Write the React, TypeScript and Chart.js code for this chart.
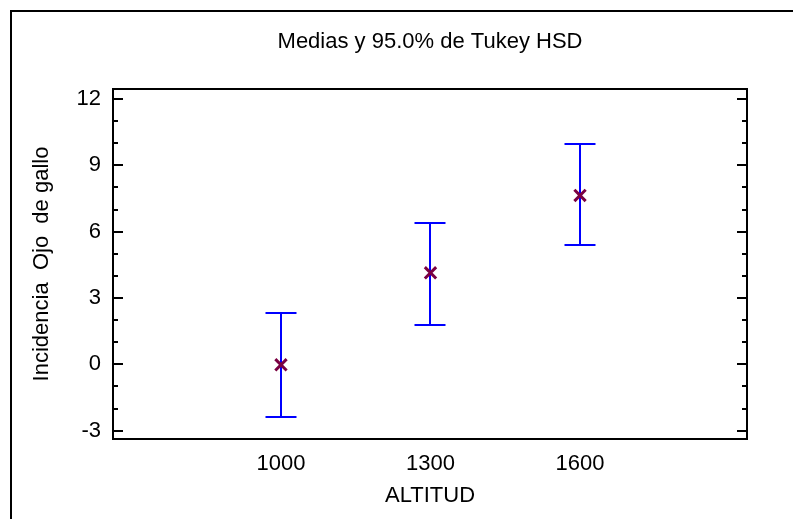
import React, { useEffect, useRef } from "react";
import { Chart, registerables } from "chart.js";

Chart.register(...registerables);

const categories = [1000, 1300, 1600];
const means = [-0.02, 4.14, 7.64];
const lowerLimits = [-2.36, 1.8, 5.38];
const upperLimits = [2.33, 6.38, 9.97];
const yTicks = [-3, 0, 3, 6, 9, 12];
const yMinorTicks = [-2, -1, 1, 2, 4, 5, 7, 8, 10, 11];
const titleText = "Medias y 95.0% de Tukey HSD";
const xTitle = "ALTITUD";
const yTitle = "Incidencia  Ojo  de gallo";

const FONT = "'Liberation Sans', Arial, sans-serif";
const FS = 22;

const framePlugin = {
  id: "framePlugin",
  beforeDatasetsDraw(chart: any) {
    const { ctx, scales } = chart;
    const y = scales.y;
    const x = scales.x;
    ctx.save();
    ctx.strokeStyle = "#0000ff";
    ctx.lineWidth = 2;
    const capHalf = 15.5;
    categories.forEach((c, i) => {
      const px = Math.round(x.getPixelForValue(c));
      const pLo = Math.round(y.getPixelForValue(lowerLimits[i]));
      const pHi = Math.round(y.getPixelForValue(upperLimits[i]));
      ctx.beginPath();
      ctx.moveTo(px, pLo);
      ctx.lineTo(px, pHi);
      ctx.moveTo(px - capHalf, pHi);
      ctx.lineTo(px + capHalf, pHi);
      ctx.moveTo(px - capHalf, pLo);
      ctx.lineTo(px + capHalf, pLo);
      ctx.stroke();
    });
    ctx.restore();
  },
  afterDraw(chart: any) {
    const { ctx, chartArea, scales } = chart;
    const y = scales.y;
    ctx.save();
    // title centred over the plot area
    ctx.fillStyle = "#000";
    ctx.font = `${FS}px ${FONT}`;
    ctx.textAlign = "center";
    ctx.textBaseline = "middle";
    ctx.fillText(titleText, (chartArea.left + chartArea.right) / 2, 42);

    ctx.strokeStyle = "#000";
    ctx.lineWidth = 2;
    ctx.strokeRect(11, 11, 820, 540);
    ctx.strokeRect(chartArea.left, chartArea.top, chartArea.right - chartArea.left, chartArea.bottom - chartArea.top);
    const drawTick = (v: number, len: number) => {
      const py = Math.round(y.getPixelForValue(v));
      ctx.beginPath();
      ctx.moveTo(chartArea.left, py);
      ctx.lineTo(chartArea.left + len, py);
      ctx.moveTo(chartArea.right, py);
      ctx.lineTo(chartArea.right - len, py);
      ctx.stroke();
    };
    yTicks.forEach((v) => drawTick(v, 10));
    yMinorTicks.forEach((v) => drawTick(v, 5));
    ctx.restore();
  },
};

export default function App() {
  const ref = useRef<HTMLCanvasElement>(null);
  useEffect(() => {
    if (!ref.current) return;
    const chart = new Chart(ref.current, {
      type: "scatter",
      data: {
        datasets: [
          {
            data: categories.map((c, i) => ({ x: c, y: means[i] })),
            pointStyle: "crossRot",
            radius: 8,
            borderWidth: 3,
            borderColor: "#7a0042",
            backgroundColor: "#7a0042",
          },
        ],
      },
      options: {
        animation: false,
        responsive: false,
        layout: { padding: { left: 0, right: 46, top: 89, bottom: 0 } },
        plugins: {
          legend: { display: false },
          tooltip: { enabled: false },
          title: { display: false },
        },
        scales: {
          x: {
            type: "linear",
            min: 663,
            max: 1935,
            afterBuildTicks: (s: any) => {
              s.ticks = categories.map((v) => ({ value: v }));
            },
            afterFit: (s: any) => {
              s.height = 80;
            },
            grid: { display: false, drawTicks: false },
            border: { display: false },
            ticks: {
              color: "#000",
              font: { family: FONT, size: FS },
              padding: 12,
              maxRotation: 0,
              autoSkip: false,
              callback: (v: any) => String(v),
            },
            title: {
              display: true,
              text: xTitle,
              color: "#000",
              font: { family: FONT, size: FS },
              padding: { top: 0, bottom: 10 },
            },
          },
          y: {
            type: "linear",
            min: -3.375,
            max: 12.452,
            afterBuildTicks: (s: any) => {
              s.ticks = yTicks.map((v) => ({ value: v }));
            },
            afterFit: (s: any) => {
              s.width = 113;
            },
            grid: { display: false, drawTicks: false },
            border: { display: false },
            ticks: {
              color: "#000",
              font: { family: FONT, size: FS },
              padding: 12,
              autoSkip: false,
              callback: (v: any) => String(v),
            },
            title: {
              display: true,
              text: yTitle,
              color: "#000",
              font: { family: FONT, size: FS },
              padding: { top: 29, bottom: 0 },
            },
          },
        },
      },
      plugins: [framePlugin],
    });
    return () => chart.destroy();
  }, []);
  return (
    <div style={{ position: "absolute", left: 0, top: 0, width: 793, height: 519, background: "#fff" }}>
      <canvas ref={ref} width={793} height={519} />
    </div>
  );
}
